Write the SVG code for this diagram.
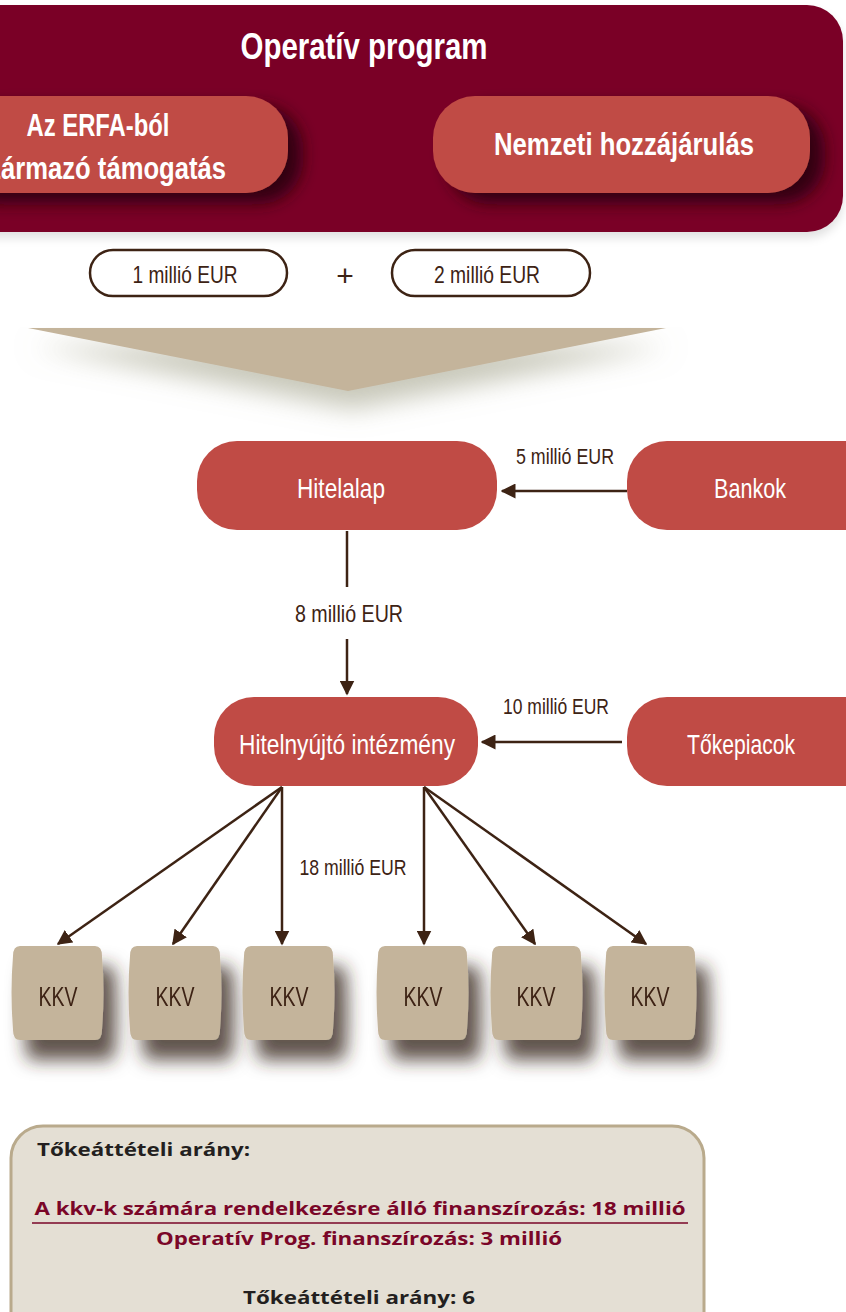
<svg xmlns="http://www.w3.org/2000/svg" width="846" height="1312" viewBox="0 0 846 1312">
<defs>
<style>
.w{font-family:"Liberation Sans","DejaVu Sans",sans-serif;fill:#ffffff;text-anchor:middle}
.b{font-weight:bold}
.d{font-family:"Liberation Sans","DejaVu Sans",sans-serif;fill:#3d2314;text-anchor:middle}
.red{fill:#c04b45}
.kkv{fill:#c4b49b}
.con{stroke:#3d2314;stroke-width:2.5;fill:none}
.pill{fill:#ffffff;stroke:#3d2314;stroke-width:2.5}
.bx{font-family:"Open Sans","Liberation Sans",sans-serif;font-weight:bold;font-size:18px}
</style>
<filter id="sh" x="-40%" y="-30%" width="200%" height="200%">
<feGaussianBlur in="SourceAlpha" stdDeviation="9"/>
<feOffset dx="13" dy="20" result="o"/>
<feFlood flood-color="#3a2a20" flood-opacity="0.8"/>
<feComposite in2="o" operator="in"/>
<feMerge><feMergeNode/><feMergeNode in="SourceGraphic"/></feMerge>
</filter>
<filter id="shp" x="-20%" y="-30%" width="150%" height="180%">
<feGaussianBlur in="SourceAlpha" stdDeviation="8"/>
<feOffset dx="14" dy="10" result="o"/>
<feFlood flood-color="#2a0010" flood-opacity="0.9"/>
<feComposite in2="o" operator="in"/>
<feMerge><feMergeNode/><feMergeNode in="SourceGraphic"/></feMerge>
</filter>
<filter id="shb" x="-10%" y="-10%" width="120%" height="130%">
<feGaussianBlur in="SourceAlpha" stdDeviation="5"/>
<feOffset dx="0" dy="6" result="o"/>
<feFlood flood-color="#000000" flood-opacity="0.12"/>
<feComposite in2="o" operator="in"/>
<feMerge><feMergeNode/><feMergeNode in="SourceGraphic"/></feMerge>
</filter>
<filter id="sht" x="-20%" y="-30%" width="140%" height="220%">
<feGaussianBlur in="SourceAlpha" stdDeviation="13"/>
<feOffset dx="4" dy="18" result="o"/>
<feFlood flood-color="#9a9a80" flood-opacity="0.55"/>
<feComposite in2="o" operator="in"/>
<feMerge><feMergeNode/><feMergeNode in="SourceGraphic"/></feMerge>
</filter>
<marker id="ah" viewBox="0 0 10 10" refX="9" refY="5" markerWidth="6" markerHeight="6" markerUnits="strokeWidth" orient="auto">
<path d="M0,0 L10,5 L0,10 Z" fill="#3d2314"/>
</marker>
</defs>
<rect width="846" height="1312" fill="#ffffff"/>

<g id="operativ-program">
<rect x="-60" y="5" width="903" height="227" rx="36" fill="#7a0628" filter="url(#shb)"/>
<text class="w b" x="364" y="59" font-size="37" textLength="247" lengthAdjust="spacingAndGlyphs">Operatív program</text>
</g>

<g id="erfa">
<rect x="-60" y="96" width="348" height="97" rx="42" class="red" filter="url(#shp)"/>
<text class="w b" x="98" y="136" font-size="31" textLength="143" lengthAdjust="spacingAndGlyphs">Az ERFA-ból</text>
<text class="w b" x="100" y="179" font-size="31" textLength="252" lengthAdjust="spacingAndGlyphs">származó támogatás</text>
</g>

<g id="nemzeti">
<rect x="433" y="96" width="377" height="97" rx="42" class="red" filter="url(#shp)"/>
<text class="w b" x="624" y="155" font-size="31" textLength="260" lengthAdjust="spacingAndGlyphs">Nemzeti hozzájárulás</text>
</g>

<g id="egy-millio">
<rect x="90" y="250" width="197" height="46" rx="23" class="pill"/>
<text class="d" x="185" y="283" font-size="24" textLength="105" lengthAdjust="spacingAndGlyphs">1 millió EUR</text>
</g>
<g id="plus">
<text class="d" x="345" y="286" font-size="30" font-weight="normal">+</text>
</g>
<g id="ket-millio">
<rect x="392" y="250" width="198" height="46" rx="23" class="pill"/>
<text class="d" x="487" y="283" font-size="24" textLength="106" lengthAdjust="spacingAndGlyphs">2 millió EUR</text>
</g>

<g id="triangle">
<polygon points="28,328 666,328 348,391" class="kkv" filter="url(#sht)"/>
</g>

<g id="connectors">
<line x1="627" y1="491" x2="502" y2="491" class="con" marker-end="url(#ah)"/>
<line x1="347" y1="531" x2="347" y2="587" class="con"/>
<line x1="347" y1="639" x2="347" y2="694" class="con" marker-end="url(#ah)"/>
<line x1="622" y1="742" x2="482" y2="742" class="con" marker-end="url(#ah)"/>
<line x1="282" y1="787" x2="58" y2="944" class="con" marker-end="url(#ah)"/>
<line x1="282" y1="787" x2="173" y2="944" class="con" marker-end="url(#ah)"/>
<line x1="282" y1="787" x2="282" y2="944" class="con" marker-end="url(#ah)"/>
<line x1="424" y1="787" x2="424" y2="944" class="con" marker-end="url(#ah)"/>
<line x1="424" y1="787" x2="535" y2="944" class="con" marker-end="url(#ah)"/>
<line x1="424" y1="787" x2="646" y2="944" class="con" marker-end="url(#ah)"/>
<text class="d" x="565" y="464" font-size="22" textLength="98" lengthAdjust="spacingAndGlyphs">5 millió EUR</text>
<text class="d" x="349" y="622" font-size="24" textLength="108" lengthAdjust="spacingAndGlyphs">8 millió EUR</text>
<text class="d" x="556" y="714" font-size="22" textLength="106" lengthAdjust="spacingAndGlyphs">10 millió EUR</text>
<text class="d" x="353" y="875" font-size="22" textLength="107" lengthAdjust="spacingAndGlyphs">18 millió EUR</text>
</g>

<g id="hitelalap">
<rect x="197" y="441" width="300" height="89" rx="40" class="red"/>
<text class="w" x="341" y="498" font-size="28" textLength="88" lengthAdjust="spacingAndGlyphs">Hitelalap</text>
</g>
<g id="bankok">
<rect x="627" y="441" width="260" height="89" rx="40" class="red"/>
<text class="w" x="750" y="498" font-size="28" textLength="72" lengthAdjust="spacingAndGlyphs">Bankok</text>
</g>
<g id="hitelnyujto">
<rect x="214" y="697" width="264" height="89" rx="40" class="red"/>
<text class="w" x="347" y="754" font-size="28" textLength="216" lengthAdjust="spacingAndGlyphs">Hitelnyújtó intézmény</text>
</g>
<g id="tokepiacok">
<rect x="627" y="697" width="260" height="89" rx="40" class="red"/>
<text class="w" x="741" y="754" font-size="28" textLength="108" lengthAdjust="spacingAndGlyphs">Tőkepiacok</text>
</g>

<g id="kkv1" filter="url(#sh)">
<path d="M20,946 H95 Q102,946 102,956 Q105,992 102,1030 Q102,1040 95,1040 H20 Q13,1040 13,1030 Q10,992 13,956 Q13,946 20,946 Z" class="kkv"/>
<text class="d" x="58" y="1006" font-size="28" textLength="39" lengthAdjust="spacingAndGlyphs">KKV</text>
</g>
<g id="kkv2" filter="url(#sh)">
<path d="M137,946 H213 Q220,946 220,956 Q223,992 220,1030 Q220,1040 213,1040 H137 Q130,1040 130,1030 Q127,992 130,956 Q130,946 137,946 Z" class="kkv"/>
<text class="d" x="175" y="1006" font-size="28" textLength="39" lengthAdjust="spacingAndGlyphs">KKV</text>
</g>
<g id="kkv3" filter="url(#sh)">
<path d="M251,946 H326 Q333,946 333,956 Q336,992 333,1030 Q333,1040 326,1040 H251 Q244,1040 244,1030 Q241,992 244,956 Q244,946 251,946 Z" class="kkv"/>
<text class="d" x="289" y="1006" font-size="28" textLength="39" lengthAdjust="spacingAndGlyphs">KKV</text>
</g>
<g id="kkv4" filter="url(#sh)">
<path d="M385,946 H460 Q467,946 467,956 Q470,992 467,1030 Q467,1040 460,1040 H385 Q378,1040 378,1030 Q375,992 378,956 Q378,946 385,946 Z" class="kkv"/>
<text class="d" x="423" y="1006" font-size="28" textLength="39" lengthAdjust="spacingAndGlyphs">KKV</text>
</g>
<g id="kkv5" filter="url(#sh)">
<path d="M499,946 H574 Q581,946 581,956 Q584,992 581,1030 Q581,1040 574,1040 H499 Q492,1040 492,1030 Q489,992 492,956 Q492,946 499,946 Z" class="kkv"/>
<text class="d" x="536" y="1006" font-size="28" textLength="39" lengthAdjust="spacingAndGlyphs">KKV</text>
</g>
<g id="kkv6" filter="url(#sh)">
<path d="M613,946 H688 Q695,946 695,956 Q698,992 695,1030 Q695,1040 688,1040 H613 Q606,1040 606,1030 Q603,992 606,956 Q606,946 613,946 Z" class="kkv"/>
<text class="d" x="650" y="1006" font-size="28" textLength="39" lengthAdjust="spacingAndGlyphs">KKV</text>
</g>

<g id="tokeattetel">
<rect x="11" y="1126" width="693" height="220" rx="32" fill="#e4dfd4" stroke="#b9aa8c" stroke-width="3"/>
<text class="bx" x="37" y="1156" fill="#231f20" textLength="213" lengthAdjust="spacingAndGlyphs">Tőkeáttételi arány:</text>
<text class="bx" x="360" y="1215" fill="#7a0628" text-anchor="middle" textLength="651" lengthAdjust="spacingAndGlyphs">A kkv-k számára rendelkezésre álló finanszírozás: 18 millió</text>
<line x1="32" y1="1223" x2="688" y2="1223" stroke="#7a0628" stroke-width="1.5"/>
<text class="bx" x="359" y="1245" fill="#7a0628" text-anchor="middle" textLength="406" lengthAdjust="spacingAndGlyphs">Operatív Prog. finanszírozás: 3 millió</text>
<text class="bx" x="359" y="1304" fill="#231f20" text-anchor="middle" textLength="232" lengthAdjust="spacingAndGlyphs">Tőkeáttételi arány: 6</text>
</g>
</svg>
